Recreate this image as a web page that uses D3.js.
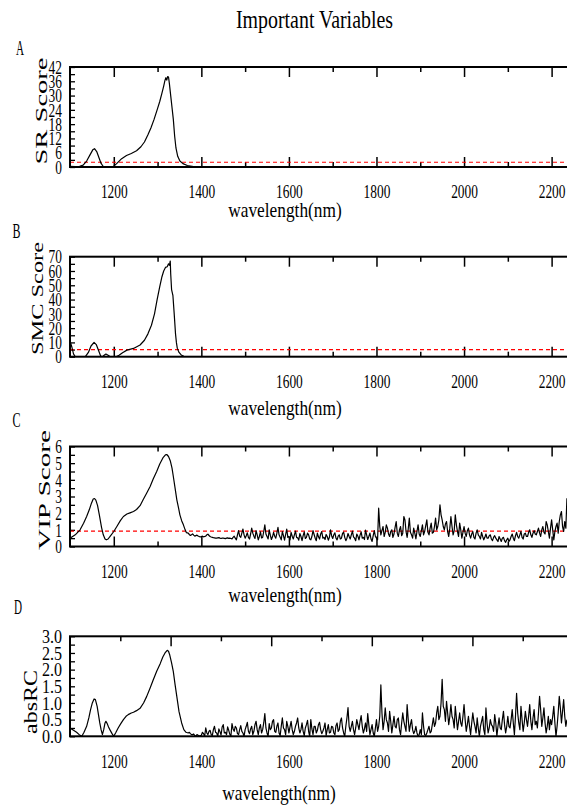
<!DOCTYPE html>
<html>
<head>
<meta charset="utf-8">
<script src="https://cdn.jsdelivr.net/npm/d3@7"></script>
<style>
  body { margin: 0; background: #fff; }
  svg { display: block; font-family: "Liberation Serif", serif; }
</style>
</head>
<body>
<svg id="chart" width="567" height="806"></svg>
<script>
// ---------------- data ----------------
const figTitle = "Important Variables";
const xTitle = "wavelength(nm)";
const panelLetters = ["A", "B", "C", "D"];
const yTitles = ["SR Score", "SMC Score", "VIP Score", "absRC"];

const xTickValues = [1200, 1400, 1600, 1800, 2000, 2200];
const xMinorTicks = [1300, 1500, 1700, 1900, 2100];
const xDomain = [1100, 2242];
// panel D has its top ticks in variable-index units
const idxDomain = [0, 497];
const idxMajor = [100, 200, 300, 400];
const idxMinor = [50, 150, 250, 350, 450];

const srTicks = [0, 6, 12, 18, 24, 30, 36, 42];
const srMinor = [3, 9, 15, 21, 27, 33, 39];
const smcTicks = [0, 10, 20, 30, 40, 50, 60, 70];
const smcMinor = [5, 15, 25, 35, 45, 55, 65];
const vipTicks = [0, 1, 2, 3, 4, 5, 6];
const vipMinor = [0.5, 1.5, 2.5, 3.5, 4.5, 5.5];
const rcTicks = [0, 0.5, 1.0, 1.5, 2.0, 2.5, 3.0];
const rcMinor = [0.25, 0.75, 1.25, 1.75, 2.25, 2.75];

const srThreshold = 2.0;
const smcThreshold = 5.0;
const vipThreshold = 0.92;

// smooth parts [wavelength, value]
const srScore = [[1100,0.3],[1112,0.15],[1122,0.3],[1130,0.8],[1138,2.5],[1146,5.2],[1152,7.2],[1156,7.7],
  [1161,6.5],[1166,4.0],[1171,1.5],[1176,0.2],[1182,0],[1198,0],[1207,1.5],[1218,3.5],[1229,4.8],[1240,5.7],
  [1252,6.8],[1262,8.5],[1270,10.5],[1278,13.5],[1285,16.5],[1292,20],[1299,24],[1305,27.5],[1310,31],
  [1314,34],[1317,36.5],[1319,37.5],[1321,36.5],[1323,38],[1325,37.8],[1327,35],[1330,30],[1333,25],
  [1336,20],[1339,13],[1342,8],[1346,4.5],[1351,2.5],[1358,1.4],[1368,0.6],[1382,0.2],[1400,0],[2242,0]];

const smcScore = [[1100,11],[1104,7],[1108,2],[1112,0],[1135,0],[1142,3],[1148,7.5],[1155,10],[1160,8.5],
  [1165,4.5],[1170,0.5],[1174,0],[1178,1],[1182,1.9],[1187,1],[1192,0],[1205,0],[1212,1],[1220,2.8],
  [1230,4.6],[1245,5.8],[1260,8.2],[1270,11.5],[1278,16],[1286,22],[1293,30],[1299,40],[1305,49],
  [1310,56],[1314,60],[1318,62.5],[1322,63],[1325,65],[1327,64],[1329,67],[1330,58],[1332,47],[1335,43],
  [1338,30],[1341,16],[1343,10],[1345,6],[1349,3],[1354,1.2],[1360,0.3],[1370,0],[2242,0]];

const vipSmooth = [[1100,0.5],[1112,0.7],[1123,1.0],[1131,1.4],[1138,1.8],[1144,2.2],[1149,2.6],[1153,2.85],
  [1156,2.88],[1159,2.78],[1163,2.45],[1167,1.9],[1172,1.15],[1176,0.7],[1180,0.45],[1183,0.4],[1187,0.45],
  [1192,0.62],[1200,0.9],[1207,1.2],[1215,1.55],[1222,1.8],[1230,1.95],[1237,2.02],[1245,2.1],[1252,2.22],
  [1260,2.45],[1267,2.8],[1275,3.2],[1283,3.6],[1290,4.05],[1298,4.5],[1305,4.95],[1313,5.35],[1318,5.5],
  [1321,5.52],[1325,5.4],[1329,5.15],[1333,4.7],[1336,4.2],[1340,3.5],[1344,2.8],[1348,2.3],[1351,1.9],
  [1355,1.55],[1359,1.3],[1363,1.0],[1366,0.83]];

const rcSmooth = [[1100,0.25],[1108,0.18],[1115,0.12],[1121,0.05],[1127,0],[1132,0.12],[1138,0.3],[1143,0.55],
  [1147,0.8],[1151,1.0],[1155,1.12],[1158,1.1],[1162,0.9],[1165,0.65],[1168,0.4],[1171,0.2],[1174,0.05],
  [1177,0.2],[1180,0.4],[1182,0.45],[1185,0.38],[1188,0.28],[1191,0.2],[1196,0.08],[1200,0],[1205,0.12],
  [1210,0.25],[1216,0.38],[1222,0.5],[1228,0.6],[1233,0.65],[1240,0.7],[1245,0.72],[1252,0.77],[1260,0.84],
  [1268,1.0],[1275,1.19],[1283,1.45],[1290,1.69],[1298,1.95],[1306,2.18],[1312,2.38],[1317,2.5],[1322,2.58],
  [1325,2.55],[1328,2.43],[1332,2.2],[1336,1.94],[1340,1.55],[1344,1.19],[1349,0.74],[1355,0.4],[1360,0.2],
  [1365,0.12]];

// noisy parts, one value every 2.5 nm from 1370 nm (one row per 100 nm)
const noiseStart = 1370, noiseStep = 2.5;
const vipNoise = [
  0.8, 0.72, 0.66, 0.7, 0.76, 0.68, 0.62, 0.65, 0.68, 0.63, 0.6, 0.57,
  0.6, 0.62, 0.58, 0.6, 0.62, 0.7, 0.74, 0.66, 0.6, 0.57, 0.55, 0.53, 0.52, 0.5, 0.5, 0.52, 0.53, 0.5, 0.48, 0.5,
  0.5, 0.49, 0.47, 0.5, 0.52, 0.49, 0.5, 0.48, 0.46, 0.55, 0.62, 0.5, 0.4, 0.7, 0.95, 0.62, 0.55, 0.8, 1.05, 0.7,
  0.5, 0.65, 0.82, 0.55, 0.45, 0.75, 1.1, 0.8, 0.62, 0.48, 0.95, 0.7, 0.4, 0.6, 0.88, 0.52, 0.55, 0.9, 1.3, 0.75,
  0.6, 0.45, 1.0, 0.68, 0.42, 0.58, 0.85, 0.62, 0.5, 0.8, 1.15, 0.7, 0.55, 0.4, 0.9, 0.65, 0.38, 0.72, 1.05, 0.55,
  0.6, 0.4, 0.85, 0.62, 0.45, 0.7, 0.92, 0.55, 0.52, 0.38, 0.78, 0.6, 0.35, 0.65, 0.88, 0.48, 0.55, 0.8, 0.7, 0.45,
  0.4, 0.6, 0.95, 0.72, 0.5, 0.35, 0.8, 0.58, 0.45, 0.75, 0.9, 0.5, 0.55, 0.42, 0.72, 0.6, 0.38, 0.55, 1.0, 0.65,
  0.48, 0.7, 0.82, 0.5, 0.4, 0.62, 0.7, 0.45, 0.5, 0.78, 0.86, 0.55, 0.35, 0.5, 0.78, 0.6, 0.45, 0.7, 0.92, 0.58,
  0.5, 0.35, 0.75, 0.62, 0.4, 0.68, 0.88, 0.5, 0.55, 0.42, 0.98, 0.7, 0.42, 0.6, 0.8, 0.45, 0.3, 0.65, 0.95, 0.6,
  0.5, 0.4, 2.3, 1.2, 0.7, 0.95, 1.2, 0.6, 0.85, 1.3, 1.1, 0.75, 0.6, 0.9, 1.0, 0.55, 0.75, 1.15, 1.5, 0.8,
  0.6, 1.0, 1.2, 0.65, 0.8, 1.8, 1.6, 0.9, 0.55, 1.05, 1.7, 0.85, 0.7, 0.5, 1.1, 0.8, 0.45, 0.9, 1.3, 0.75,
  0.6, 0.95, 1.3, 0.7, 0.9, 1.25, 1.6, 0.85, 0.7, 1.1, 1.4, 0.8, 0.85, 1.2, 1.7, 1.0, 1.2, 1.6, 2.5, 1.9,
  1.6, 1.2, 1.0, 1.35, 1.5, 0.9, 0.6, 1.1, 1.8, 1.2, 0.7, 0.95, 1.9, 1.3, 0.9, 0.6, 1.4, 1.0, 0.5, 0.85,
  1.2, 0.8, 0.6, 0.95, 1.1, 0.7, 0.5, 0.75, 0.9, 0.55, 0.45, 0.8, 1.0, 0.7, 0.6, 0.45, 0.85, 0.6, 0.4, 0.55,
  0.75, 0.5, 0.5, 0.65, 0.7, 0.45, 0.35, 0.55, 0.65, 0.5, 0.4, 0.3, 0.6, 0.45, 0.3, 0.5, 0.55, 0.35, 0.25, 0.4,
  0.5, 0.3, 0.4, 0.6, 0.75, 0.5, 0.35, 0.65, 0.85, 0.6, 0.5, 0.7, 0.9, 0.55, 0.45, 0.75, 0.8, 0.6, 0.6, 0.85,
  1.0, 0.7, 0.55, 0.8, 0.95, 0.75, 0.7, 0.9, 1.1, 0.8, 0.6, 1.0, 1.2, 0.85, 0.75, 1.5, 1.3, 0.9, 0.5, 1.1,
  1.6, 1.0, 0.4, 0.9, 1.2, 1.4, 0.8, 1.5, 1.9, 2.1, 1.2, 0.9, 1.5, 1.1, 2.9];
const rcNoise = [
  0.1, 0.12, 0.08, 0.05, 0.05, 0.07, 0.02, 0.0, 0.05, 0.03, 0.0, 0.02,
  0.03, 0.12, 0.08, 0.0, 0.25, 0.1, 0.05, 0.15, 0.18, 0.05, 0.02, 0.2, 0.3, 0.12, 0.1, 0.0, 0.22, 0.14, 0.04, 0.28,
  0.35, 0.1, 0.12, 0.05, 0.28, 0.18, 0.06, 0.0, 0.38, 0.22, 0.15, 0.3, 0.25, 0.08, 0.05, 0.2, 0.32, 0.15, 0.1, 0.0,
  0.2, 0.3, 0.42, 0.15, 0.08, 0.22, 0.3, 0.05, 0.15, 0.35, 0.45, 0.2, 0.05, 0.25, 0.35, 0.1, 0.2, 0.4, 0.68, 0.25,
  0.1, 0.0, 0.38, 0.2, 0.25, 0.45, 0.5, 0.15, 0.12, 0.3, 0.4, 0.1, 0.02, 0.3, 0.55, 0.25, 0.2, 0.05, 0.45, 0.3,
  0.1, 0.28, 0.45, 0.2, 0.05, 0.15, 0.3, 0.4, 0.55, 0.25, 0.1, 0.2, 0.4, 0.15, 0.02, 0.25, 0.35, 0.48, 0.15, 0.0,
  0.5, 0.22, 0.05, 0.3, 0.3, 0.1, 0.18, 0.35, 0.42, 0.2, 0.08, 0.15, 0.25, 0.4, 0.03, 0.2, 0.35, 0.1, 0.12, 0.3,
  0.28, 0.1, 0.05, 0.32, 0.4, 0.15, 0.2, 0.45, 0.55, 0.25, 0.1, 0.0, 0.3, 0.55, 0.86, 0.3, 0.15, 0.3, 0.45, 0.2,
  0.05, 0.25, 0.5, 0.35, 0.2, 0.45, 0.62, 0.3, 0.1, 0.22, 0.4, 0.15, 0.68, 0.35, 0.05, 0.2, 0.35, 0.1, 0.0, 0.25,
  0.5, 0.15, 0.3, 0.6, 1.54, 0.7, 0.2, 0.45, 0.85, 0.5, 0.4, 0.15, 0.75, 0.45, 0.1, 0.35, 0.6, 0.3, 0.25, 0.5,
  0.55, 0.2, 0.05, 0.4, 0.7, 0.45, 0.3, 0.15, 0.95, 0.5, 0.15, 0.35, 0.5, 0.2, 0.08, 0.15, 0.3, 0.1, 0.0, 0.05,
  0.2, 0.05, 0.7, 0.3, 0.05, 0.02, 0.1, 0.2, 0.3, 0.1, 0.15, 0.35, 0.55, 0.3, 0.4, 0.7, 0.9, 0.5, 0.6, 1.0,
  1.71, 0.9, 0.8, 0.45, 1.05, 0.7, 0.35, 0.6, 0.95, 0.6, 0.5, 0.25, 0.9, 0.55, 0.2, 0.45, 0.7, 0.4, 0.3, 0.6,
  0.95, 0.5, 0.15, 0.35, 0.6, 0.3, 0.05, 0.4, 0.7, 0.45, 0.3, 0.1, 0.55, 0.25, 0.0, 0.3, 0.45, 0.6, 0.2, 0.05,
  0.85, 0.4, 0.1, 0.25, 0.5, 0.35, 0.3, 0.15, 0.65, 0.4, 0.0, 0.3, 0.55, 0.25, 0.2, 0.5, 0.75, 0.35, 0.1, 0.3,
  0.6, 0.3, 0.25, 0.5, 0.8, 0.4, 0.05, 0.6, 1.29, 0.7, 0.4, 0.2, 0.9, 0.5, 0.15, 0.4, 0.75, 0.5, 0.3, 0.6,
  0.95, 0.45, 0.2, 0.55, 0.8, 0.35, 0.45, 0.25, 0.7, 1.2, 0.8, 0.3, 0.55, 0.85, 0.4, 0.1, 0.3, 0.6, 0.2, 0.5,
  0.35, 0.6, 0.9, 0.4, 0.0, 0.3, 0.7, 1.2, 0.85, 0.4, 0.75, 1.1, 0.6, 0.3, 0.5];

const withNoise = (smooth, noise) =>
  smooth.concat(noise.map((v, i) => [noiseStart + i * noiseStep, v]));

// ---------------- layout ----------------
const svg = d3.select("#chart");
const left = 70, right = 570, plotH = 100;
const charW = 6.7;           // the figure's font is monospaced & narrow
const x = d3.scaleLinear().domain(xDomain).range([left, right]);

svg.append("text")
  .attr("x", 314.5).attr("y", 28)
  .attr("text-anchor", "middle")
  .attr("font-size", 26)
  .attr("textLength", 157).attr("lengthAdjust", "spacingAndGlyphs")
  .text(figTitle);

const panels = [
  { top: 67,    ticks: srTicks,  minor: srMinor,  ymax: 42, data: srScore, thr: srThreshold,
    letter: [20, 55], yt: { x: 46.5, y: 111, len: 107, fs: 17 }, xl: { x: 285, y: 216.5 }, fmt: d3.format("d") },
  { top: 256.7, ticks: smcTicks, minor: smcMinor, ymax: 70, data: smcScore, thr: smcThreshold,
    letter: [16.5, 238], yt: { x: 43.3, y: 298.5, len: 113, fs: 17 }, xl: { x: 285, y: 414.5 }, fmt: d3.format("d") },
  { top: 446.5, ticks: vipTicks, minor: vipMinor, ymax: 6, data: withNoise(vipSmooth, vipNoise), thr: vipThreshold,
    letter: [16.5, 426.5], yt: { x: 50, y: 490, len: 120, fs: 17 }, xl: { x: 285, y: 601.5 }, fmt: d3.format("d") },
  { top: 636.3, ticks: rcTicks, minor: rcMinor, ymax: 3, data: withNoise(rcSmooth, rcNoise), thr: null,
    letter: [18, 613.5], yt: { x: 36.5, y: 702, len: 64, fs: 19 }, xl: { x: 279, y: 800 }, fmt: d3.format(".1f"), idxTop: true }
];

function styleTickText(g) {
  g.selectAll("text")
    .attr("font-family", "Liberation Serif")
    .attr("font-size", 19.5)
    .attr("fill", "#000")
    .attr("textLength", function () { return this.textContent.length * charW; })
    .attr("lengthAdjust", "spacingAndGlyphs");
}
function tidy(g, w) {
  g.select(".domain").remove();
  g.selectAll(".tick line").attr("stroke", "#000").attr("stroke-width", w);
}

panels.forEach((p, i) => {
  const bottom = p.top + plotH;
  const y = d3.scaleLinear().domain([0, p.ymax]).range([bottom, p.top]);
  const g = svg.append("g");

  g.append("clipPath").attr("id", "clip" + i)
    .append("rect").attr("x", left).attr("y", p.top - 1).attr("width", right - left).attr("height", plotH + 1);

  // bottom axis
  if (!p.idxTop) {
    const gm = g.append("g").attr("transform", `translate(0,${bottom})`)
      .call(d3.axisBottom(x).tickValues(xMinorTicks).tickSizeInner(-5).tickSizeOuter(0).tickFormat(""));
    tidy(gm, 1.5);
  }
  const gx = g.append("g").attr("transform", `translate(0,${bottom})`)
    .call(d3.axisBottom(x).tickValues(xTickValues).tickSizeInner(p.idxTop ? 0 : -10).tickSizeOuter(0)
      .tickPadding(17.5).tickFormat(d3.format("d")));
  tidy(gx, 1.5);
  styleTickText(gx);

  // top axis
  const topScale = p.idxTop ? d3.scaleLinear().domain(idxDomain).range([left, right]) : x;
  const gt = g.append("g").attr("transform", `translate(0,${p.top})`)
    .call(d3.axisTop(topScale).tickValues(p.idxTop ? idxMajor : xTickValues).tickSizeInner(-10).tickSizeOuter(0).tickFormat(""));
  tidy(gt, 1.5);
  const gt2 = g.append("g").attr("transform", `translate(0,${p.top})`)
    .call(d3.axisTop(topScale).tickValues(p.idxTop ? idxMinor : xMinorTicks).tickSizeInner(-5).tickSizeOuter(0).tickFormat(""));
  tidy(gt2, 1.5);

  // left axis
  const gy2 = g.append("g").attr("transform", `translate(${left},0)`)
    .call(d3.axisLeft(y).tickValues(p.minor).tickSizeInner(-5).tickSizeOuter(0).tickFormat(""));
  tidy(gy2, 1.3);
  const gy = g.append("g").attr("transform", `translate(${left},0)`)
    .call(d3.axisLeft(y).tickValues(p.ticks).tickSizeInner(-5).tickSizeOuter(0).tickPadding(8).tickFormat(p.fmt));
  tidy(gy, 1.3);
  styleTickText(gy);

  // threshold
  if (p.thr !== null) {
    g.append("line")
      .attr("x1", left).attr("x2", right)
      .attr("y1", y(p.thr)).attr("y2", y(p.thr))
      .attr("stroke", "#ff0000").attr("stroke-width", 1.2)
      .attr("stroke-dasharray", "4,3");
  }

  // data line
  const line = d3.line().x(d => x(d[0])).y(d => y(d[1]));
  g.append("path")
    .datum(p.data)
    .attr("clip-path", `url(#clip${i})`)
    .attr("d", line)
    .attr("fill", "none")
    .attr("stroke", "#000")
    .attr("stroke-width", 1.2)
    .attr("stroke-linejoin", "round");

  // frame
  g.append("rect")
    .attr("x", left).attr("y", p.top)
    .attr("width", right - left).attr("height", plotH)
    .attr("fill", "none").attr("stroke", "#000").attr("stroke-width", 2);

  // letters & titles
  g.append("text")
    .attr("x", p.letter[0]).attr("y", p.letter[1])
    .attr("text-anchor", "middle").attr("font-size", 22)
    .attr("textLength", 8).attr("lengthAdjust", "spacingAndGlyphs")
    .text(panelLetters[i]);

  g.append("text")
    .attr("transform", `translate(${p.yt.x},${p.yt.y}) rotate(-90)`)
    .attr("text-anchor", "middle").attr("font-size", p.yt.fs)
    .attr("textLength", p.yt.len).attr("lengthAdjust", "spacingAndGlyphs")
    .text(yTitles[i]);

  g.append("text")
    .attr("x", p.xl.x).attr("y", p.xl.y)
    .attr("text-anchor", "middle").attr("font-size", 21)
    .attr("textLength", 113.5).attr("lengthAdjust", "spacingAndGlyphs")
    .text(xTitle);
});
</script>
</body>
</html>
